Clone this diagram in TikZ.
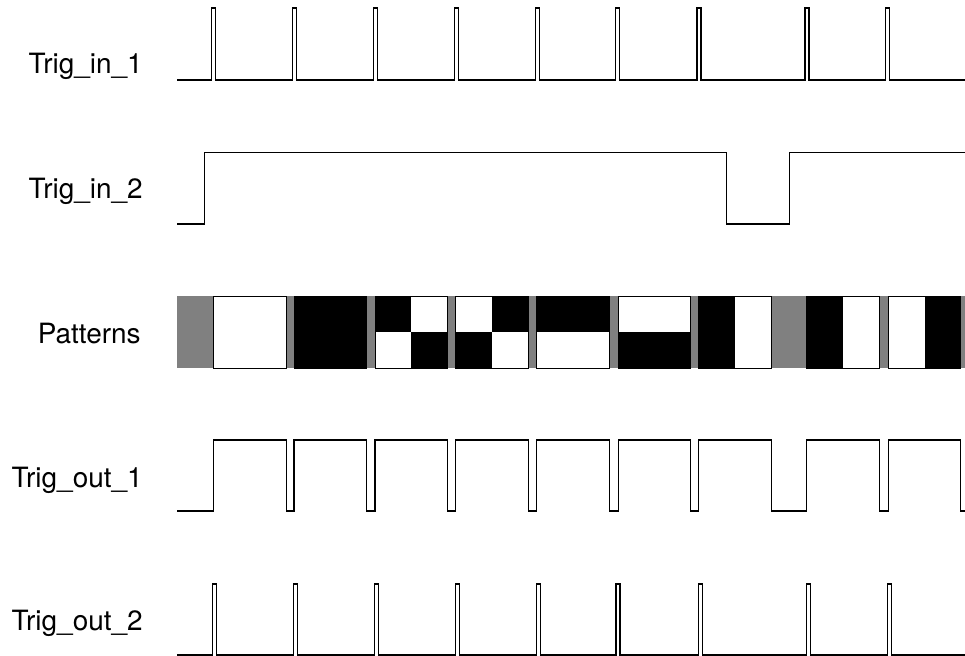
\documentclass[tikz,border=0pt]{standalone}
\usepackage{fontspec}
\setmainfont{TeX Gyre Heros}
\usepackage{tikz}

\begin{document}
\begin{tikzpicture}[x=0.02cm, y=-0.02cm,
  signame/.style={anchor=base east, inner sep=0pt, font=\fontsize{15.9}{19}\selectfont},
  wave/.style={draw=black, line width=0.6pt, line join=miter},
  cell/.style={draw=black, line width=0.5pt}]
\useasboundingbox (0,0) rectangle (965,656);

% signal names
\node [signame] (in1) at (143,73) {Trig\_in\_1};
\node [signame] (in2) at (143,198) {Trig\_in\_2};
\node [signame] (pat) at (141,343) {Patterns};
\node [signame] (out1) at (143,487) {Trig\_out\_1};
\node [signame] (out2) at (143,630) {Trig\_out\_2};

% Trig_in_1
\draw [wave] (177,80) \foreach \p in {211.7,292.7,373.7,454.3,535.7,615.3,697,805,885.7}
  { -- (\p,80) -- (\p,8) -- (\p+4,8) -- (\p+4,80) } -- (965,80);

% Trig_in_2
\draw [wave] (177,224) -- (204.7,224) -- (204.7,152.3) -- (726.3,152.3) -- (726.3,224)
  -- (789.3,224) -- (789.3,152.3) -- (965,152.3);

% Patterns
\fill [gray] (177,296) rectangle (965,368);
\foreach \s/\tl/\tr/\bl/\br in {213.5/white/white/white/white, 294/black/black/black/black,
  375/black/white/white/black, 455.7/white/black/black/white, 536.7/black/black/white/white,
  618.3/white/white/black/black, 698.7/black/white/black/white, 806.7/black/white/black/white,
  888.3/white/black/white/black}
{
  \fill [\tl] (\s,296) rectangle ++(36.3,36);
  \fill [\tr] (\s+36.3,296) rectangle ++(36.3,36);
  \fill [\bl] (\s,332) rectangle ++(36.3,36);
  \fill [\br] (\s+36.3,332) rectangle ++(36.3,36);
  \draw [cell] (\s,296) rectangle ++(72.6,72);
}

% Trig_out_1
\draw [wave] (177,511) \foreach \s in {213.5,294,375,455.7,536.7,618.3,698.7,806.7,888.3}
  { -- (\s,511) -- (\s,440) -- (\s+72.6,440) -- (\s+72.6,511) } -- (965,511);

% Trig_out_2
\draw [wave] (177,655) \foreach \p in {212.3,293.7,374.7,455.7,536.7,616,698.3,806.7,887.3}
  { -- (\p,655) -- (\p,584) -- (\p+4,584) -- (\p+4,655) } -- (965,655);
\end{tikzpicture}
\end{document}
